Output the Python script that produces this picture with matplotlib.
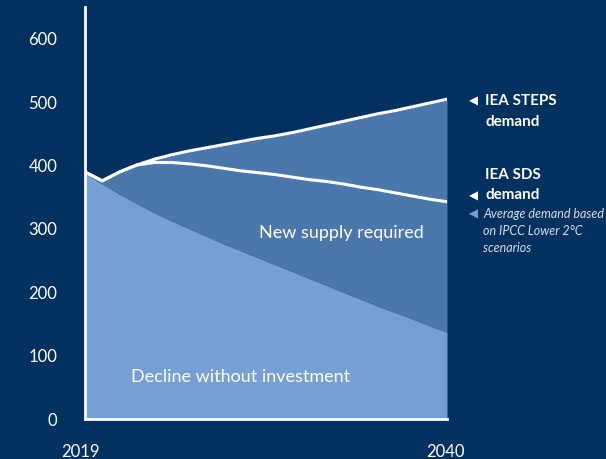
import matplotlib
matplotlib.use("Agg")
import matplotlib.pyplot as plt
from matplotlib.transforms import ScaledTranslation
import numpy as np

years = list(range(2019, 2041))
decline = [388, 371, 355, 340, 326, 313, 301, 289, 277, 266, 255, 244,
           233, 222, 211, 200, 189, 178, 168, 158, 147, 137]
steps = [390, 376, 390, 401, 410, 417, 423, 428, 433, 438, 443, 447,
         452, 458, 464, 470, 476, 482, 487, 493, 499, 505]
sds = [390, 376, 390, 401, 405, 405, 403, 400, 396, 392, 389, 386,
       382, 378, 375, 371, 366, 362, 357, 352, 347, 343]
yticks = [0, 100, 200, 300, 400, 500, 600]
xticks = [2019, 2040]

BG = "#02315f"
MED = "#4b77aa"
LIGHT = "#76a0d4"
FAM = ["Lato", "DejaVu Sans"]

plt.rcParams['font.family'] = FAM

fig = plt.figure(figsize=(6.06, 4.59), dpi=100, facecolor=BG)
ax = fig.add_axes([85/606, 40/459, 362/606, 411.7/459])
ax.set_facecolor(BG)

x = np.array(years)
ax.fill_between(x, 0, decline, color=LIGHT, lw=0, zorder=1)
ax.fill_between(x, decline, steps, color=MED, lw=0, zorder=1)
ax.plot(x, steps, color="white", lw=2.2, zorder=3, solid_joinstyle='round')
ax.plot(x, sds, color="white", lw=2.2, zorder=3, solid_joinstyle='round')

ax.set_xlim(2019, 2040)
ax.set_ylim(0, 650)
for s in ["top", "right"]:
    ax.spines[s].set_visible(False)
for s in ["left", "bottom"]:
    ax.spines[s].set_color("white")
    ax.spines[s].set_linewidth(2)
    ax.spines[s].set_zorder(5)

ax.set_yticks(yticks)
ax.set_yticklabels([str(v) for v in yticks])
ax.set_xticks(xticks)
ax.set_xticklabels([str(v) for v in xticks])
ax.tick_params(axis="y", length=0, pad=20, labelsize=12, labelcolor="white")
ax.tick_params(axis="x", length=0, pad=18, labelsize=12, labelcolor="white")
lbls = ax.get_xticklabels()
lbls[0].set_transform(lbls[0].get_transform() + ScaledTranslation(-5/100, 0, fig.dpi_scale_trans))
lbls[1].set_transform(lbls[1].get_transform() + ScaledTranslation(-2/100, 0, fig.dpi_scale_trans))

ax.text(2033.9, 294, "New supply required", color="white", fontsize=13,
        ha="center", va="center")
ax.text(2028.0, 67, "Decline without investment", color="white", fontsize=13,
        ha="center", va="center")

# right annotations (figure coordinates in pixels)
def ftext(px, py, s, **kw):
    fig.text(px/606, 1 - py/459, s, **kw)

ftext(469, 101, "\u25C0", color="white", fontsize=8.5, ha="left", va="center", family=["DejaVu Sans"])
ftext(485, 101, "IEA STEPS", color="white", fontsize=11, fontweight="bold", ha="left", va="center")
ftext(485, 122, "demand", color="white", fontsize=11, fontweight="bold", ha="left", va="center")
ftext(485, 175, "IEA SDS", color="white", fontsize=11, fontweight="bold", ha="left", va="center")
ftext(469, 196, "\u25C0", color="white", fontsize=8.5, ha="left", va="center", family=["DejaVu Sans"])
ftext(485, 195, "demand", color="white", fontsize=11, fontweight="bold", ha="left", va="center")
ftext(469, 214, "\u25C0", color=LIGHT, fontsize=8.5, ha="left", va="center", family=["DejaVu Sans"])
ftext(483, 214, "Average demand based", color="#d8dee8", fontsize=9, style="italic", ha="left", va="center")
ftext(483, 231, "on IPCC Lower 2\u00B0C", color="#d8dee8", fontsize=9, style="italic", ha="left", va="center")
ftext(483, 248, "scenarios", color="#d8dee8", fontsize=9, style="italic", ha="left", va="center")

fig.savefig("out.png", dpi=100, facecolor=BG)
